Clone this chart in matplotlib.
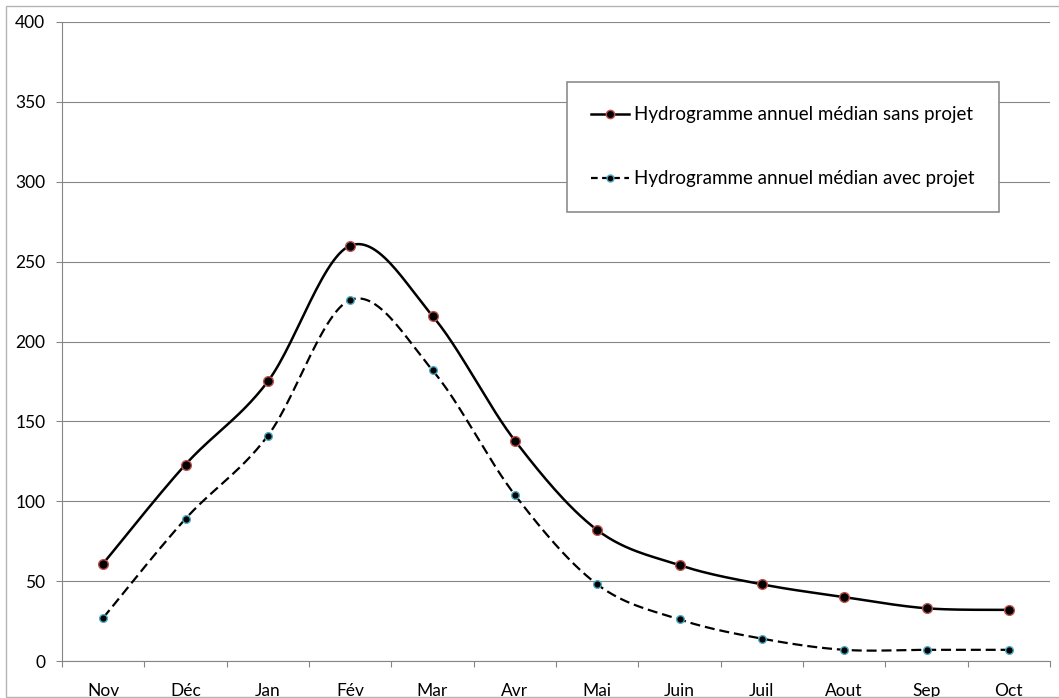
import matplotlib.pyplot as plt
import numpy as np
from matplotlib.patches import Rectangle

# Monthly values
months = ['Nov', 'Déc', 'Jan', 'Fév', 'Mar', 'Avr', 'Mai', 'Juin', 'Juil', 'Aout', 'Sep', 'Oct']
sans_projet = [61, 123, 175, 260, 216, 138, 82, 60, 48, 40, 33, 32]
avec_projet = [27, 89, 141, 226, 182, 104, 48, 26, 14, 7, 7, 7]

plt.rcParams['font.family'] = ['Lato', 'DejaVu Sans']


def smooth(x, y, n=30):
    # Excel style smoothed line (bezier through the points)
    x = np.asarray(x, float)
    y = np.asarray(y, float)
    px = np.concatenate([[x[0]], x, [x[-1]]])
    py = np.concatenate([[y[0]], y, [y[-1]]])
    t = np.linspace(0, 1, n)
    xs, ys = [], []
    for i in range(1, len(x)):
        p0 = np.array([px[i], py[i]])
        p3 = np.array([px[i + 1], py[i + 1]])
        c1 = p0 + (np.array([px[i + 1], py[i + 1]]) - np.array([px[i - 1], py[i - 1]])) / 6
        c2 = p3 - (np.array([px[i + 2], py[i + 2]]) - p0) / 6
        b = ((1 - t) ** 3)[:, None] * p0 + (3 * (1 - t) ** 2 * t)[:, None] * c1 \
            + (3 * (1 - t) * t ** 2)[:, None] * c2 + (t ** 3)[:, None] * p3
        xs.append(b[:, 0])
        ys.append(b[:, 1])
    return np.concatenate(xs), np.concatenate(ys)


fig = plt.figure(figsize=(10.59, 6.98), dpi=100)
ax = fig.add_axes([62 / 1059, 1 - 661 / 698, 988 / 1059, 639 / 698])

x = np.arange(len(months)) + 0.5

sx, sy = smooth(x, sans_projet)
ax.plot(sx, sy, color='black', lw=1.8, solid_capstyle='round')
ax.plot(x, sans_projet, ls='none', marker='o', ms=7, mfc='black', mec='#c0504d', mew=1)

ax2x, ax2y = smooth(x, avec_projet)
ax.plot(ax2x, ax2y, color='black', lw=1.6, ls=(0, (4.5, 2.2)))
ax.plot(x, avec_projet, ls='none', marker='o', ms=5.5, mfc='black', mec='#4bacc6', mew=1)

# legend handles
h1, = ax.plot([], [], color='black', lw=1.8, marker='o', ms=6, mfc='black', mec='#c0504d', mew=1)
h2, = ax.plot([], [], color='black', lw=1.6, ls=(0, (3, 2)), marker='o', ms=5, mfc='black', mec='#4bacc6', mew=1)
leg = ax.legend([h1, h2], ['Hydrogramme annuel médian sans projet', 'Hydrogramme annuel médian avec projet'],
                loc='upper left', bbox_to_anchor=(567 / 1059, 1 - 82 / 698), bbox_transform=fig.transFigure,
                fancybox=False, framealpha=1, edgecolor='#8c8c8c', fontsize=13.5,
                borderpad=1.3, labelspacing=2.5, handlelength=2.0, handletextpad=0.27,
                borderaxespad=0)
leg.get_frame().set_linewidth(1.2)

ax.set_xlim(0, 12)
ax.set_ylim(0, 400)
ax.set_yticks(np.arange(0, 401, 50))
ax.set_xticks(np.arange(0, 13))
ax.set_xticklabels([])
ax.set_xticks(x, minor=True)
ax.set_xticklabels(months, minor=True)
ax.tick_params(axis='x', which='major', length=4, color='#868686', width=0.8)
ax.tick_params(axis='x', which='minor', length=0, pad=16, labelsize=12.5)
ax.tick_params(axis='y', length=4, color='#868686', width=0.8, pad=8, labelsize=12.5)

ax.grid(axis='y', color='#868686', lw=0.8)
ax.set_axisbelow(True)
for s in ['top', 'right']:
    ax.spines[s].set_visible(False)
for s in ['left', 'bottom']:
    ax.spines[s].set_color('#868686')
    ax.spines[s].set_linewidth(0.8)

# outer chart border
fig.patches.append(Rectangle((6 / 1059, 1 / 698), 1.1, 691 / 698, transform=fig.transFigure,
                             fill=False, edgecolor='#b4b4b4', lw=1))

fig.savefig('out.png', dpi=100)
